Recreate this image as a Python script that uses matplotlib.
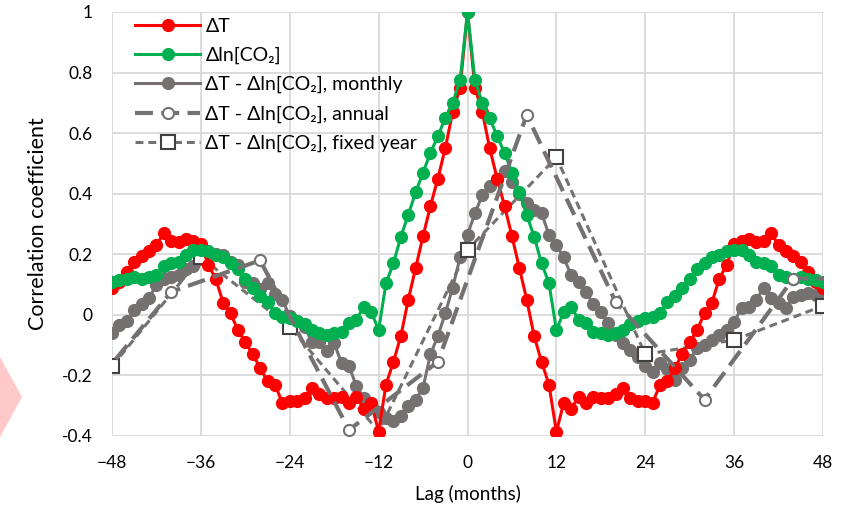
import numpy as np
import matplotlib
matplotlib.use("Agg")
import matplotlib.pyplot as plt
from matplotlib.patches import Polygon

plt.rcParams['font.family'] = ['Lato', 'DejaVu Sans']

# lags 0..48 (symmetric series)
lags_half = np.arange(0, 49)
dT_half = [1.0, 0.75, 0.67, 0.55, 0.45, 0.36, 0.26, 0.155, 0.05, -0.07,
           -0.155, -0.23, -0.386, -0.29, -0.31, -0.27, -0.29, -0.27, -0.275, -0.275,
           -0.26, -0.24, -0.275, -0.285, -0.285, -0.29, -0.23, -0.22, -0.175, -0.13,
           -0.09, -0.05, 0.005, 0.04, 0.12, 0.165, 0.235, 0.245, 0.25, 0.24,
           0.245, 0.27, 0.23, 0.21, 0.195, 0.175, 0.14, 0.11, 0.09]
dco2_half = [1.0, 0.775, 0.70, 0.65, 0.59, 0.535, 0.47, 0.405, 0.33, 0.258,
             0.17, 0.105, -0.05, 0.01, 0.027, -0.016, -0.027, -0.055, -0.06, -0.066,
             -0.06, -0.05, -0.03, -0.02, -0.01, -0.006, 0.006, 0.043, 0.062, 0.09,
             0.12, 0.15, 0.17, 0.19, 0.198, 0.21, 0.215, 0.215, 0.198, 0.175,
             0.17, 0.16, 0.13, 0.126, 0.12, 0.126, 0.12, 0.115, 0.11]

# monthly cross-correlation, lags -48..48
lags = np.arange(-48, 49)
monthly = [-0.06, -0.035, -0.02, 0.015, 0.035, 0.055, 0.10, 0.12, 0.125, 0.13,
           0.15, 0.16, 0.185, 0.195, 0.20, 0.198, 0.175, 0.165, 0.11, 0.105,
           0.085, 0.105, 0.07, 0.05, -0.005, -0.02, -0.04, -0.09, -0.09, -0.12,
           -0.093, -0.16, -0.17, -0.235, -0.275, -0.29, -0.32, -0.34, -0.35, -0.335,
           -0.30, -0.28, -0.24, -0.13, -0.07, 0.005, 0.09, 0.19,
           0.265,
           0.335, 0.395, 0.425, 0.45, 0.475, 0.44, 0.40, 0.37, 0.345, 0.335,
           0.265, 0.23, 0.19, 0.13, 0.11, 0.075, 0.035, 0.008, -0.027, -0.065,
           -0.093, -0.115, -0.14, -0.17, -0.19, -0.16, -0.18, -0.215, -0.175, -0.148,
           -0.11, -0.10, -0.083, -0.066, -0.05, -0.022, 0.022, 0.027, 0.05, 0.09,
           0.056, 0.04, 0.022, 0.06, 0.066, 0.073, 0.066, 0.05]

annual_lags = [-52, -40, -28, -16, -4, 8, 20, 32, 44, 56]
annual = [-0.28, 0.076, 0.18, -0.38, -0.155, 0.66, 0.043, -0.28, 0.12, 0.12]

fixed_lags = [-48, -36, -24, -12, 0, 12, 24, 36, 48]
fixed = [-0.17, 0.19, -0.04, -0.385, 0.215, 0.52, -0.13, -0.083, 0.03]

# mirror the symmetric series
dT = dT_half[:0:-1] + dT_half
dco2 = dco2_half[:0:-1] + dco2_half

red = '#FF0000'
green = '#00B050'
gray = '#767171'

fig = plt.figure(figsize=(8.44, 5.12), dpi=100)
ax = fig.add_axes([112/844, 1-436/512, (823-112)/844, (436-12)/512])

ax.plot(lags, dT, '-o', color=red, lw=2.2, ms=8.5, label='ΔT', zorder=4)
ax.plot(lags, dco2, '-o', color=green, lw=2.2, ms=8.5, label='Δln[CO₂]', zorder=5)
ax.plot(lags, monthly, '-o', color=gray, lw=2.2, ms=8.5,
        label='ΔT - Δln[CO₂], monthly', zorder=2)
ax.plot(annual_lags, annual, '--o', color=gray, lw=3, dashes=(4.3, 2), ms=8,
        mfc='white', mec=gray, mew=1.5, label='ΔT - Δln[CO₂], annual', zorder=6)
# square at -12 is hidden under the red dot in the original
ax.plot(fixed_lags, fixed, '--s', color=gray, lw=2.2, dashes=(2.6, 1.6), ms=10,
        mfc='white', mec='#404040', mew=1.5, markevery=[0, 1, 2, 4, 5, 6, 7, 8],
        label='ΔT - Δln[CO₂], fixed year', zorder=3)

ax.set_xlim(-48, 48)
ax.set_ylim(-0.4, 1.0)
ax.set_xticks(np.arange(-48, 49, 12))
yt = [-0.4, -0.2, 0, 0.2, 0.4, 0.6, 0.8, 1]
ax.set_yticks(yt)
ax.set_yticklabels(['-0.4', '-0.2', '0', '0.2', '0.4', '0.6', '0.8', '1'])
ax.tick_params(length=0, labelsize=12.5, pad=14)
ax.grid(True, color='#D9D9D9', lw=1.3, zorder=0)
ax.set_axisbelow(True)
for s in ax.spines.values():
    s.set_visible(False)

ax.set_xlabel('Lag (months)', fontsize=13.5, labelpad=10)
ax.set_ylabel('Correlation coefficient', fontsize=15.5, labelpad=10)

ax.legend(loc='upper left', frameon=False, fontsize=14, handlelength=3.3,
          handletextpad=0.3, labelspacing=0.62, borderaxespad=0.0,
          bbox_to_anchor=(0.022, 1.005))

fig.add_artist(Polygon([(0, 1-357/512), (22/844, 1-397/512), (0, 1-437/512)],
                       closed=True, transform=fig.transFigure,
                       facecolor='#FFC9C9', edgecolor='none'))

fig.savefig('out.png', dpi=100)
